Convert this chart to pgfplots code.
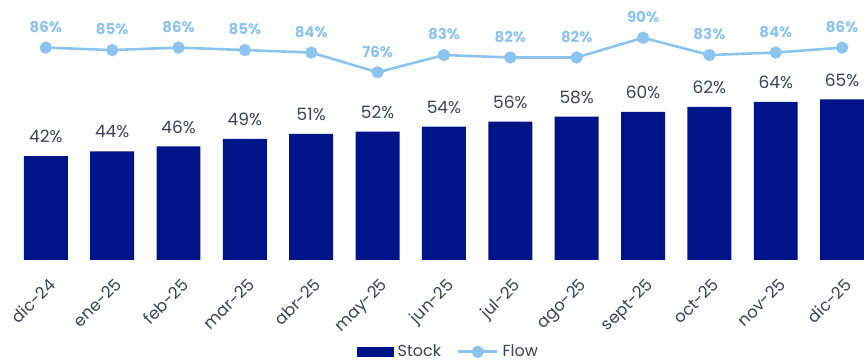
\documentclass[border=0pt]{standalone}
\usepackage{pgfplots}
\pgfplotsset{compat=1.18}
\usepackage{fontspec}
\setmainfont{Poppins}
\definecolor{navy}{RGB}{0,20,137}
\definecolor{flowc}{RGB}{140,196,238}
\definecolor{lbl}{RGB}{60,64,88}
\begin{document}
\begin{tikzpicture}
\begin{axis}[
  name=ax,
  /pgf/number format/assume math mode=true,
  scale only axis, width=432.3pt, height=130pt,
  xmin=-0.69, xmax=12.33, ymin=0, ymax=105.3,
  clip=false,
  axis x line=bottom, axis y line=none,
  x axis line style={draw=none},
  major tick length=0pt,
  ytick=\empty,
  xtick={0,...,12},
  xticklabels={dic-24,ene-25,feb-25,mar-25,abr-25,may-25,jun-25,jul-25,ago-25,sept-25,oct-25,nov-25,dic-25},
  x tick label style={xshift=1pt, yshift=-8.5pt, rotate=45, anchor=north east, font=\fontsize{8.2}{9}\selectfont, text=lbl, inner sep=0pt},
  legend style={at={(0.52,-0.354)}, anchor=center, draw=none, legend columns=2, font=\fontsize{8}{9}\selectfont, text=lbl,
    /tikz/every even column/.append style={column sep=6pt}},
  legend cell align=left,
]
\addplot[ybar, bar width=22pt, fill=navy, draw=none,
  nodes near coords={\pgfmathprintnumber{\pgfplotspointmeta}\%},
  every node near coord/.append style={font=\fontsize{8.5}{10}\selectfont, text=lbl, yshift=3pt},
  legend image code/.code={\fill[navy] (0pt,-2.5pt) rectangle (18.5pt,2.5pt);}]
  coordinates {(0,42)(1,44)(2,46)(3,49)(4,51)(5,52)(6,54)(7,56)(8,58)(9,60)(10,62)(11,64)(12,65)};
\addlegendentry{Stock}
\addplot[color=flowc, line width=1.3pt, mark=*, mark size=2.4pt,
  nodes near coords={\pgfmathprintnumber{\pgfplotspointmeta}\%},
  every node near coord/.append style={font=\bfseries\fontsize{7.5}{9}\selectfont, text=flowc, anchor=south, yshift=3.5pt},
  legend image code/.code={\draw[flowc, line width=1.3pt] (0pt,0pt) -- (19.5pt,0pt); \fill[flowc] (9.75pt,0pt) circle (2.4pt);}]
  coordinates {(0,86)(1,85)(2,86)(3,85)(4,84)(5,76)(6,83)(7,82)(8,82)(9,90)(10,83)(11,84)(12,86)};
\addlegendentry{Flow}
\end{axis}
\pgfresetboundingbox
\path[use as bounding box] ([yshift=-51.5pt]ax.south west) rectangle (ax.north east);
\end{tikzpicture}
\end{document}
